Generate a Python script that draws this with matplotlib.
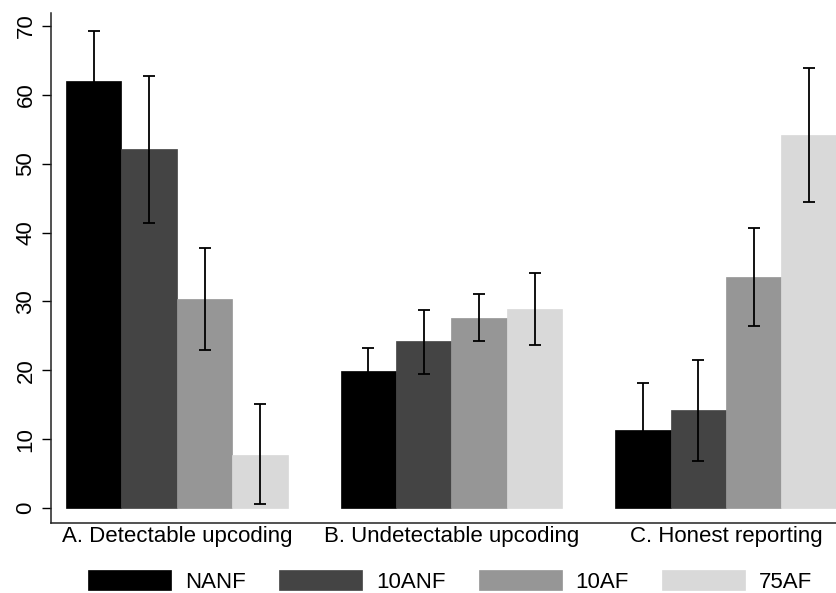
import numpy as np
import matplotlib
matplotlib.use("Agg")
import matplotlib.pyplot as plt

plt.rcParams["font.family"] = ["Liberation Sans", "DejaVu Sans"]

# ── Données ────────────────────────────────────────────────────────────
groupes = ["A. Detectable upcoding", "B. Undetectable upcoding", "C. Honest reporting"]
traitements = ["NANF", "10ANF", "10AF", "75AF"]
couleurs = ["#000000", "#444444", "#969696", "#d9d9d9"]

# moyennes par traitement (une valeur par groupe)
moy_nanf = [62.0, 19.9, 11.4]
moy_10anf = [52.1, 24.2, 14.2]
moy_10af = [30.4, 27.6, 33.5]
moy_75af = [7.8, 28.9, 54.2]

# bornes basses / hautes des intervalles
bas_nanf = [54.9, 16.7, 4.5]
haut_nanf = [69.2, 23.2, 18.2]
bas_10anf = [41.4, 19.5, 6.9]
haut_10anf = [62.7, 28.8, 21.5]
bas_10af = [23.0, 24.3, 26.4]
haut_10af = [37.8, 31.1, 40.7]
bas_75af = [0.6, 23.7, 44.5]
haut_75af = [15.1, 34.2, 63.9]

moyennes = [moy_nanf, moy_10anf, moy_10af, moy_75af]
bas = [bas_nanf, bas_10anf, bas_10af, bas_75af]
haut = [haut_nanf, haut_10anf, haut_10af, haut_75af]

FS = 16

# ── Figure ────────────────────────────────────────────────────────────
fig = plt.figure(figsize=(8.37, 5.93), dpi=100)
ax = fig.add_axes([0.0609, 0.1186, 0.939, 0.86])

ecart = 4.95
centres = np.arange(len(groupes)) * ecart
handles = []
for j, (nom, col) in enumerate(zip(traitements, couleurs)):
    x = centres + j
    m = np.array(moyennes[j])
    b = ax.bar(x, m, width=1.0, color=col, edgecolor=col, lw=0.5, label=nom, zorder=2)
    handles.append(b)
    yerr = np.vstack([m - np.array(bas[j]), np.array(haut[j]) - m])
    ax.errorbar(x, m, yerr=yerr, fmt="none", ecolor="black",
                elinewidth=1.3, capsize=4, capthick=1.3, zorder=3)

ax.set_xlim(-0.77, 2 * ecart + 3.5)
ax.set_ylim(-2.09, 71.9)
ax.set_xticks(centres + 1.5)
ax.set_xticklabels(groupes, fontsize=FS)
ax.set_yticks(np.arange(0, 71, 10))
ax.tick_params(axis="x", length=0, pad=2.5)
ax.tick_params(axis="y", length=6.5, width=1, pad=4, labelsize=FS, labelrotation=90)
for lab in ax.get_yticklabels():
    lab.set_va("center")
for s in ["top", "right"]:
    ax.spines[s].set_visible(False)
for s in ["left", "bottom"]:
    ax.spines[s].set_color("#222222")
    ax.spines[s].set_linewidth(1.1)

fig.legend(handles=handles, labels=traitements, loc="center", ncol=4,
           bbox_to_anchor=(0.538, 0.0194), frameon=False, fontsize=FS,
           handlelength=3.74, handleheight=0.99, handletextpad=0.63,
           columnspacing=1.48, borderpad=0, borderaxespad=0)

plt.savefig("out.png", dpi=100)
plt.close()
